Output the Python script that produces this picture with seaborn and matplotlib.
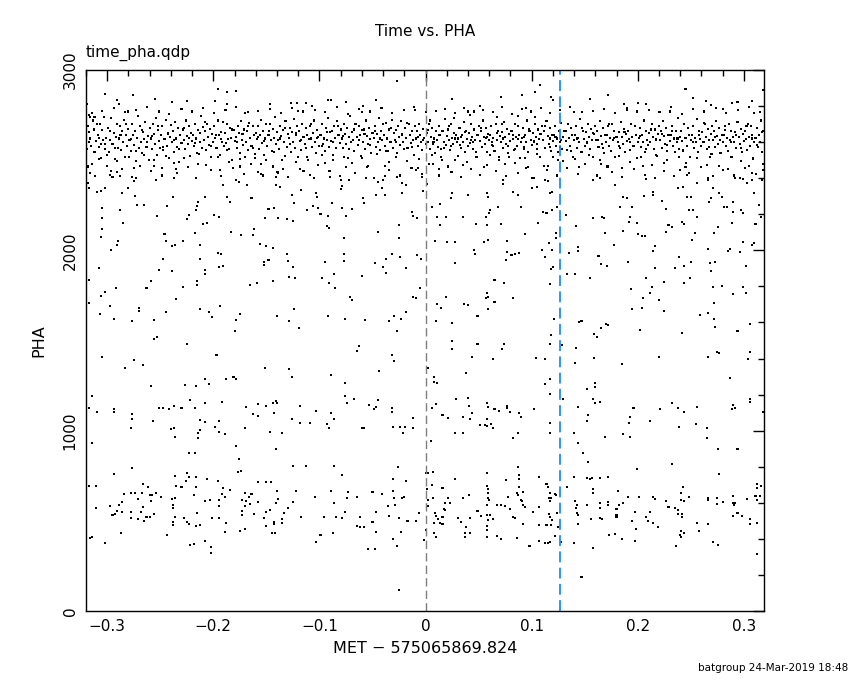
import matplotlib
matplotlib.use("Agg")
import matplotlib.pyplot as plt
import seaborn as sns
import pandas as pd
from matplotlib.ticker import MultipleLocator, FuncFormatter

# ---- data: (time offset in ms, PHA) ----
top_pts = [(-302,2867),(-276,2861),(-255,2839),(-291,2833),(-289,2811),(-239,2822),(-225,2828),(-196,2895),
 (-187,2878),(-179,2883),(-198,2828),(-187,2811),(-147,2811),(-127,2817),(-121,2817),(-113,2817),(-107,2800),
 (-92,2833),(-89,2833),(-75,2822),(-59,2800),(-47,2833),(-27,2939),(-319,2811),(-317,2750),(-316,2739),(-312,2739),
 (25,2839),(51,2800),(71,2850),(91,2861),(103,2878),(108,2917),(118,2850),(120,2833),(155,2839),(172,2861),
 (187,2811),(200,2817),(208,2811),(245,2895),(252,2844),(264,2828),(269,2806),(289,2817),(294,2822),(308,2828),
 (318,2889),(-280,2770),(-230,2785),(-170,2760),(-120,2775),(-60,2765),(-10,2780),(40,2770),(95,2790),(140,2765),
 (190,2780),(230,2770),(280,2785),(310,2760)]

band_pts = [
 (-318,2690),(-316,2620),(-315,2580),(-313,2720),(-312,2545),(-317,2655),(-311,2605),(-314,2480),(-319,2560),(-310,2700),(-316,2430),
 (-309,2640),(-308,2575),(-307,2700),(-306,2510),(-305,2665),(-304,2610),(-303,2740),(-302,2560),(-301,2625),(-300,2470),(-306,2590),
 (-299,2680),(-298,2545),(-297,2610),(-296,2735),(-295,2590),(-294,2650),(-293,2505),(-292,2630),(-291,2700),(-290,2570),(-296,2440),
 (-289,2620),(-288,2690),(-287,2555),(-286,2660),(-285,2600),(-284,2725),(-283,2520),(-282,2640),(-281,2580),(-280,2675),
 (-279,2610),(-278,2550),(-277,2700),(-276,2640),(-275,2585),(-274,2660),(-273,2495),(-272,2625),(-271,2745),(-270,2570),(-275,2455),
 (-269,2690),(-268,2600),(-267,2540),(-266,2655),(-265,2615),(-264,2710),(-263,2575),(-262,2635),(-261,2500),(-260,2680),
 (-259,2620),(-258,2560),(-257,2700),(-256,2645),(-255,2590),(-254,2735),(-253,2530),(-252,2665),(-251,2605),(-250,2570),(-256,2470),
 (-249,2640),(-248,2690),(-247,2555),(-246,2615),(-245,2725),(-244,2580),(-243,2650),(-242,2510),(-241,2630),(-240,2695),
 (-239,2600),(-238,2660),(-237,2545),(-236,2710),(-235,2620),(-234,2575),(-233,2680),(-232,2490),(-231,2640),(-230,2595),(-235,2450),
 (-229,2670),(-228,2610),(-227,2560),(-226,2720),(-225,2635),(-224,2590),(-223,2690),(-222,2525),(-221,2650),(-220,2605),
 (-219,2640),(-218,2580),(-217,2700),(-216,2620),(-215,2540),(-214,2665),(-213,2600),(-212,2745),(-211,2570),(-210,2685),(-214,2480),
 (-209,2610),(-208,2660),(-207,2555),(-206,2700),(-205,2630),(-204,2585),(-203,2675),(-202,2515),(-201,2645),(-200,2600),
 (-199,2690),(-198,2625),(-197,2570),(-196,2720),(-195,2640),(-194,2530),(-193,2655),(-192,2600),(-191,2710),(-190,2580),(-194,2445),
 (-189,2650),(-188,2595),(-187,2700),(-186,2615),(-185,2560),(-184,2680),(-183,2625),(-182,2500),(-181,2665),(-180,2605),
 (-179,2630),(-178,2570),(-177,2690),(-176,2650),(-175,2540),(-174,2715),(-173,2610),(-172,2585),(-171,2670),(-170,2520),(-175,2465),
 (-169,2600),(-168,2660),(-167,2555),(-166,2705),(-165,2625),(-164,2580),(-163,2690),(-162,2640),(-161,2510),(-160,2650),
 (-159,2615),(-158,2690),(-157,2560),(-156,2640),(-155,2725),(-154,2595),(-153,2660),(-152,2530),(-151,2620),(-150,2700),(-155,2480),
 (-149,2580),(-148,2640),(-147,2700),(-146,2610),(-145,2550),(-144,2675),(-143,2625),(-142,2740),(-141,2590),(-140,2655),
 (-139,2610),(-138,2560),(-137,2690),(-136,2635),(-135,2500),(-134,2665),(-133,2600),(-132,2715),(-131,2575),(-130,2645),(-134,2450),
 (-129,2625),(-128,2680),(-127,2545),(-126,2655),(-125,2600),(-124,2730),(-123,2570),(-122,2640),(-121,2690),(-120,2520),
 (-119,2660),(-118,2605),(-117,2555),(-116,2700),(-115,2630),(-114,2590),(-113,2680),(-112,2640),(-111,2500),(-110,2615),(-115,2440),
 (-109,2690),(-108,2620),(-107,2575),(-106,2650),(-105,2720),(-104,2600),(-103,2540),(-102,2665),(-101,2630),(-100,2580),
 (-99,2640),(-98,2700),(-97,2590),(-96,2620),(-95,2550),(-94,2680),(-93,2610),(-92,2735),(-91,2575),(-90,2655),(-95,2485),
 (-89,2605),(-88,2660),(-87,2530),(-86,2690),(-85,2625),(-84,2570),(-83,2715),(-82,2640),(-81,2595),(-80,2670),
 (-79,2620),(-78,2565),(-77,2700),(-76,2645),(-75,2590),(-74,2680),(-73,2510),(-72,2630),(-71,2745),(-70,2600),(-75,2460),
 (-69,2655),(-68,2610),(-67,2550),(-66,2700),(-65,2630),(-64,2585),(-63,2690),(-62,2640),(-61,2525),(-60,2665),
 (-59,2600),(-58,2670),(-57,2560),(-56,2720),(-55,2635),(-54,2590),(-53,2680),(-52,2615),(-51,2540),(-50,2650),(-54,2470),
 (-49,2625),(-48,2690),(-47,2575),(-46,2645),(-45,2600),(-44,2735),(-43,2555),(-42,2660),(-41,2610),(-40,2700),
 (-39,2640),(-38,2580),(-37,2705),(-36,2620),(-35,2550),(-34,2670),(-33,2600),(-32,2725),(-31,2565),(-30,2650),(-34,2490),
 (-29,2610),(-28,2665),(-27,2540),(-26,2690),(-25,2630),(-24,2585),(-23,2715),(-22,2645),(-21,2600),(-20,2560),
 (-19,2680),(-18,2625),(-17,2570),(-16,2700),(-15,2640),(-14,2595),(-13,2660),(-12,2610),(-11,2530),(-10,2690),(-14,2455),
 (-9,2620),(-8,2660),(-7,2580),(-6,2700),(-5,2640),(-4,2600),(-3,2555),(-2,2675),(-1,2625),(0,2590),
 (1,2650),(2,2600),(3,2700),(4,2560),(5,2630),(6,2680),(7,2590),(8,2620),(9,2540),(10,2660),(4,2720),(7,2480),
 (11,2610),(12,2575),(13,2690),(14,2640),(15,2520),(16,2660),(17,2600),(18,2730),(19,2585),(20,2635),(15,2560),(13,2450),
 (21,2670),(22,2610),(23,2555),(24,2700),(25,2625),(26,2590),(27,2650),(28,2500),(29,2640),(30,2600),(24,2580),(27,2735),
 (31,2620),(32,2680),(33,2570),(34,2640),(35,2600),(36,2710),(37,2545),(38,2660),(39,2615),(40,2580),(35,2475),(33,2630),
 (41,2650),(42,2595),(43,2700),(44,2630),(45,2560),(46,2670),(47,2610),(48,2520),(49,2640),(50,2690),(45,2600),(42,2750),
 (51,2605),(52,2660),(53,2575),(54,2720),(55,2630),(56,2590),(57,2680),(58,2545),(59,2645),(60,2610),(55,2460),(57,2625),
 (61,2640),(62,2690),(63,2585),(64,2625),(65,2550),(66,2700),(67,2610),(68,2660),(69,2520),(70,2635),(64,2580),(67,2740),
 (71,2600),(72,2655),(73,2570),(74,2710),(75,2630),(76,2590),(77,2675),(78,2540),(79,2645),(80,2605),(75,2480),(73,2620),
 (81,2660),(82,2615),(83,2555),(84,2700),(85,2630),(86,2580),(87,2690),(88,2640),(89,2510),(90,2600),(84,2560),(87,2745),
 (91,2625),(92,2680),(93,2575),(94,2640),(95,2600),(96,2720),(97,2545),(98,2660),(99,2610),(100,2585),(95,2455),(93,2630),
 (101,2650),(102,2600),(103,2700),(104,2630),(105,2560),(106,2670),(107,2615),(108,2520),(109,2645),(110,2690),(105,2590),(103,2740),
 (111,2610),(112,2660),(113,2570),(114,2715),(115,2635),(116,2590),(117,2680),(118,2550),(119,2640),(120,2605),(115,2470),(117,2620),
 (121,2640),(122,2690),(123,2580),(124,2620),(125,2545),(126,2660),(127,2600),(128,2705),(129,2560),(130,2630),(125,2500),(127,2575),
 (131,2660),(132,2605),(133,2555),(134,2700),(135,2625),(136,2580),(137,2680),(138,2640),(139,2520),(140,2610),
 (141,2640),(142,2690),(143,2570),(144,2625),(145,2600),(146,2730),(147,2545),(148,2660),(149,2615),(150,2580),(145,2460),
 (151,2655),(152,2600),(153,2700),(154,2630),(155,2560),(156,2675),(157,2610),(158,2520),(159,2645),(160,2690),
 (161,2610),(162,2660),(163,2575),(164,2715),(165,2635),(166,2590),(167,2680),(168,2540),(169,2640),(170,2600),(165,2480),
 (171,2640),(172,2690),(173,2580),(174,2625),(175,2550),(176,2700),(177,2610),(178,2660),(179,2515),(180,2630),
 (181,2600),(182,2655),(183,2570),(184,2710),(185,2630),(186,2590),(187,2675),(188,2545),(189,2645),(190,2605),(185,2455),
 (191,2660),(192,2615),(193,2555),(194,2700),(195,2630),(196,2580),(197,2690),(198,2640),(199,2510),(200,2600),
 (201,2625),(202,2680),(203,2575),(204,2640),(205,2600),(206,2720),(207,2545),(208,2660),(209,2610),(210,2585),(205,2470),
 (211,2650),(212,2600),(213,2700),(214,2630),(215,2560),(216,2670),(217,2615),(218,2525),(219,2645),(220,2690),
 (221,2610),(222,2660),(223,2570),(224,2715),(225,2635),(226,2590),(227,2680),(228,2550),(229,2640),(230,2605),(225,2485),
 (231,2640),(232,2690),(233,2580),(234,2620),(235,2545),(236,2660),(237,2600),(238,2735),(239,2560),(240,2630),
 (241,2660),(242,2605),(243,2555),(244,2700),(245,2625),(246,2580),(247,2680),(248,2640),(249,2520),(250,2610),(245,2460),
 (251,2640),(252,2690),(253,2570),(254,2625),(255,2600),(256,2730),(257,2545),(258,2660),(259,2615),(260,2580),
 (261,2655),(262,2600),(263,2700),(264,2630),(265,2560),(266,2675),(267,2610),(268,2520),(269,2645),(270,2690),(265,2475),
 (271,2610),(272,2660),(273,2575),(274,2715),(275,2635),(276,2590),(277,2680),(278,2540),(279,2640),(280,2600),
 (281,2640),(282,2690),(283,2580),(284,2625),(285,2550),(286,2700),(287,2610),(288,2660),(289,2515),(290,2630),(285,2450),
 (291,2600),(292,2655),(293,2570),(294,2710),(295,2630),(296,2590),(297,2675),(298,2545),(299,2645),(300,2605),
 (301,2660),(302,2615),(303,2555),(304,2700),(305,2630),(306,2580),(307,2690),(308,2640),(309,2510),(310,2600),(305,2470),
 (311,2625),(312,2680),(313,2575),(314,2640),(315,2600),(316,2720),(317,2545),(318,2660)]

band_core_extra = [
 (-317.5,2600),(-312.5,2670),(-307.5,2625),(-302.5,2590),(-297.5,2660),(-292.5,2565),(-287.5,2640),(-282.5,2700),
 (-277.5,2615),(-272.5,2550),(-267.5,2665),(-262.5,2600),(-257.5,2635),(-252.5,2690),(-247.5,2575),(-242.5,2645),
 (-237.5,2610),(-232.5,2560),(-227.5,2680),(-222.5,2625),(-217.5,2595),(-212.5,2650),(-207.5,2710),(-202.5,2580),
 (-197.5,2640),(-192.5,2615),(-187.5,2555),(-182.5,2670),(-177.5,2600),(-172.5,2645),(-167.5,2690),(-162.5,2570),
 (-157.5,2630),(-152.5,2605),(-147.5,2660),(-142.5,2545),(-137.5,2620),(-132.5,2680),(-127.5,2590),(-122.5,2650),
 (-117.5,2610),(-112.5,2565),(-107.5,2700),(-102.5,2625),(-97.5,2580),(-92.5,2655),(-87.5,2600),(-82.5,2690),
 (-77.5,2635),(-72.5,2560),(-67.5,2670),(-62.5,2610),(-57.5,2645),(-52.5,2585),(-47.5,2660),(-42.5,2620),
 (-37.5,2550),(-32.5,2680),(-27.5,2600),(-22.5,2640),(-17.5,2705),(-12.5,2575),(-7.5,2630),(-2.5,2610),
 (2.5,2665),(7.5,2600),(12.5,2640),(17.5,2570),(22.5,2690),(27.5,2620),(32.5,2585),(37.5,2655),(42.5,2610),
 (47.5,2545),(52.5,2680),(57.5,2630),(62.5,2600),(67.5,2650),(72.5,2700),(77.5,2580),(82.5,2640),(87.5,2615),
 (92.5,2560),(97.5,2670),(102.5,2605),(107.5,2645),(112.5,2690),(117.5,2575),(122.5,2630),(127.5,2610),
 (132.5,2660),(137.5,2550),(142.5,2620),(147.5,2680),(152.5,2595),(157.5,2650),(162.5,2610),(167.5,2565),
 (172.5,2700),(177.5,2625),(182.5,2580),(187.5,2655),(192.5,2600),(197.5,2690),(202.5,2635),(207.5,2560),
 (212.5,2670),(217.5,2610),(222.5,2645),(227.5,2585),(232.5,2660),(237.5,2620),(242.5,2550),(247.5,2680),
 (252.5,2600),(257.5,2640),(262.5,2705),(267.5,2575),(272.5,2630),(277.5,2610),(282.5,2665),(287.5,2600),
 (292.5,2640),(297.5,2570),(302.5,2690),(307.5,2620),(312.5,2585),(317.5,2655)]

band_edge_pts = [
 (-318.5,2465),(-314.5,2760),(-311.5,2410),(-307.5,2505),(-304.5,2775),(-300.5,2530),(-297.5,2420),(-293.5,2790),
 (-290.5,2495),(-286.5,2450),(-283.5,2765),(-279.5,2515),(-276.5,2405),(-272.5,2780),(-269.5,2470),(-265.5,2530),
 (-262.5,2795),(-258.5,2440),(-255.5,2500),(-251.5,2770),(-248.5,2415),(-244.5,2525),(-241.5,2755),(-237.5,2485),
 (-234.5,2430),(-230.5,2785),(-227.5,2510),(-223.5,2460),(-220.5,2770),(-216.5,2400),(-213.5,2535),(-209.5,2790),
 (-206.5,2475),(-202.5,2445),(-199.5,2760),(-195.5,2520),(-192.5,2410),(-188.5,2780),(-185.5,2490),(-181.5,2455),
 (-178.5,2795),(-174.5,2505),(-171.5,2425),(-167.5,2765),(-164.5,2480),(-160.5,2535),(-157.5,2775),(-153.5,2415),
 (-150.5,2500),(-146.5,2785),(-143.5,2465),(-139.5,2435),(-136.5,2760),(-132.5,2525),(-129.5,2405),(-125.5,2790),
 (-122.5,2490),(-118.5,2450),(-115.5,2770),(-111.5,2515),(-108.5,2420),(-104.5,2780),(-101.5,2475),(-97.5,2530),
 (-94.5,2765),(-90.5,2440),(-87.5,2500),(-83.5,2795),(-80.5,2410),(-76.5,2520),(-73.5,2755),(-69.5,2485),
 (-66.5,2430),(-62.5,2785),(-59.5,2510),(-55.5,2460),(-52.5,2770),(-48.5,2400),(-45.5,2535),(-41.5,2790),
 (-38.5,2470),(-34.5,2445),(-31.5,2760),(-27.5,2520),(-24.5,2415),(-20.5,2780),(-17.5,2495),(-13.5,2455),
 (-10.5,2795),(-6.5,2505),(-3.5,2425),(0.5,2765),
 (3.5,2480),(6.5,2530),(9.5,2775),(12.5,2415),(15.5,2500),(18.5,2785),(21.5,2465),(24.5,2435),(27.5,2760),
 (30.5,2525),(33.5,2405),(36.5,2790),(39.5,2490),(42.5,2450),(45.5,2770),(48.5,2515),(51.5,2420),(54.5,2780),
 (57.5,2475),(60.5,2530),(63.5,2765),(66.5,2440),(69.5,2500),(72.5,2795),(75.5,2410),(78.5,2520),(81.5,2755),
 (84.5,2485),(87.5,2430),(90.5,2785),(93.5,2510),(96.5,2460),(99.5,2770),(102.5,2400),(105.5,2535),(108.5,2790),
 (111.5,2470),(114.5,2445),(117.5,2760),(120.5,2520),(123.5,2415),(126.5,2780),(129.5,2495),(133.5,2455),
 (136.5,2795),(140.5,2505),(143.5,2425),(147.5,2765),(150.5,2480),(154.5,2530),(157.5,2775),(161.5,2415),
 (164.5,2500),(168.5,2785),(171.5,2465),(175.5,2435),(178.5,2760),(182.5,2525),(185.5,2405),(189.5,2790),
 (192.5,2490),(196.5,2450),(199.5,2770),(203.5,2515),(206.5,2420),(210.5,2780),(213.5,2475),(217.5,2530),
 (220.5,2765),(224.5,2440),(227.5,2500),(231.5,2795),(234.5,2410),(238.5,2520),(241.5,2755),(245.5,2485),
 (248.5,2430),(252.5,2785),(255.5,2510),(259.5,2460),(262.5,2770),(266.5,2400),(269.5,2535),(273.5,2790),
 (276.5,2470),(280.5,2445),(283.5,2760),(287.5,2520),(290.5,2415),(294.5,2780),(297.5,2495),(301.5,2455),
 (304.5,2795),(308.5,2505),(311.5,2425),(315.5,2765),(318.5,2480)]

mid_pts = [
 (-296,2000),(-247,1952),(-308,1902),(-251,1891),(-239,1885),(-213,1952),(-193,1980),(-208,1891),(-208,1869),(-195,1908),
 (-191,1913),(-317,1835),(-259,1830),(-292,1791),(-263,1791),(-302,1769),(-306,1747),(-215,1830),(-215,1808),(-229,1797),
 (-235,1730),(-317,1708),(-297,1691),(-270,1680),(-270,1664),(-307,1647),(-294,1619),(-277,1608),(-256,1614),(-245,1658),
 (-213,1675),(-204,1658),(-201,1630),(-194,1691),(-179,1614),(-175,1647),(-180,1553),(-165,1808),(-159,1819),(-152,1935),
 (-152,1919),(-148,1946),(-144,1830),(-131,1980),(-130,1941),(-125,1908),(-129,1852),(-123,1847),(-124,1675),(-140,1636),
 (-129,1608),(-119,1569),(-95,1935),(-98,1847),(-91,1819),(-86,1869),(-85,1791),(-77,1980),(-77,1941),(-71,1741),(-69,1725),
 (-60,1858),(-92,1636),(-76,1619),(-57,1614),(-48,1930),(-37,1952),(-32,1980),(-24,1963),(-40,1908),(-37,1874),(-18,1902),
 (-8,1974),(-4,1952),(-5,1791),(-12,1741),(-9,1736),(-18,1658),(-30,1636),(-34,1608),(-23,1619),(-27,1553),(-253,1519),
 (-256,1508),(-225,1480),(-63,1469),(-65,1442),(-32,1419),(-30,1386),(-305,1408),(-275,1392),(-283,1347),(-266,1364),
 (-197,1419),(-151,1347),(-129,1342),(-126,1297),(-89,1308),(-44,1331),(-320,1275),(-259,1248),(-227,1253),(-216,1248),
 (-208,1286),(-204,1259),(-188,1286),(-181,1297),(-179,1286),(-76,1264),(2,1347),
 (47,1980),(28,1930),(77,1991),(81,1974),(84,1980),(88,1985),(76,1946),(110,2002),(113,1963),(120,1908),(118,1896),
 (117,1813),(65,1835),(74,1819),(19,1741),(11,1702),(15,1680),(36,1702),(40,1697),(58,1763),(59,1741),(57,1736),(65,1713),
 (59,1675),(82,1736),(49,1636),(10,1608),(25,1597),(25,1497),(25,1453),(49,1480),(74,1480),(72,1453),(44,1408),(64,1397),
 (104,1403),(113,1397),(118,1530),(117,1480),(121,1619),(38,1320),(8,1297),(8,1270),(11,1264),(117,1286),(113,1259),
 (135,1985),(144,1996),(163,1969),(165,1924),(171,1913),(191,1935),(133,1869),(141,1869),(155,1847),(214,1996),(216,1902),
 (239,1963),(244,1913),(250,1935),(235,1902),(268,1930),(273,1935),(269,1885),(285,1996),(302,1913),(208,1847),(225,1824),
 (249,1847),(244,1819),(194,1786),(213,1797),(212,1763),(205,1736),(220,1725),(195,1675),(204,1680),(225,1664),(271,1797),
 (279,1802),(299,1797),(290,1758),(302,1763),(272,1708),(259,1641),(266,1652),(272,1619),(273,1575),(294,1553),(306,1591),
 (145,1602),(147,1608),(170,1591),(172,1586),(165,1569),(159,1536),(162,1519),(202,1558),(242,1542),(129,1475),(142,1458),
 (159,1403),(185,1369),(220,1408),(266,1408),(275,1436),(277,1431),(306,1436),(304,1397),(141,1375),(287,1292),(160,1264),
 (160,1242),(152,1231),
 (-317,2346),(-318,2373),(-310,2323),(-306,2329),(-302,2346),(-280,2346),(-286,2318),(-274,2301),(-305,2236),(-288,2224),
 (-305,2179),(-285,2151),(-305,2118),(-306,2074),(-290,2052),(-291,2030),(-272,2251),(-265,2251),(-253,2190),(-244,2246),
 (-238,2296),(-246,2090),(-245,2052),(-236,2030),(-239,2024),(-229,2052),(-223,2196),(-225,2174),(-215,2246),(-216,2224),
 (-208,2296),(-217,2096),(-213,2030),(-210,2146),(-206,2151),(-214,2268),(-199,2196),(-195,2185),(-187,2296),(-184,2268),
 (-191,2362),(-196,1985),(-183,2102),(-174,2085),(-162,2118),(-163,2085),(-164,2290),(-156,2035),(-150,2024),(-144,2013),
 (-148,2229),(-143,2235),(-151,2179),(-139,2179),(-131,2174),(-125,2163),(-126,2307),(-124,2262),(-112,2224),(-106,2246),
 (-101,2235),(-102,2296),(-103,2318),(-93,2135),(-91,2124),(-99,2201),(-92,2190),(-88,2262),(-79,2235),(-75,2190),(-80,2340),
 (-77,2068),(-69,2229),(-59,2290),(-58,2262),(-72,2390),(-45,2102),(-40,2390),(-41,2346),(-47,2307),(-38,2307),(-22,2318),
 (-13,2212),(-12,2190),(-25,2068),(-9,2445),(-7,2457),(-3,2407),(1,2368),(-8,2179),(-25,2140),(-22,2373),(-18,2362),
 (-254,2390),(-237,2401),(-273,2401),(-275,2384),(-248,2457),(-295,2407),(-291,2434),(-288,2412),(-179,2390),(-176,2379),
 (-168,2362),(-158,2434),(-155,2423),(-141,2362),(-137,2351),(-141,2407),(-139,2429),(-117,2334),(-105,2401),(-90,2407),
 (-80,2390),(-79,2357),(-56,2401),(-45,2379),(-38,2412),(-27,2407),(-13,2457),
 (-2,2329),(6,2240),(14,2257),(11,2185),(19,2185),(14,2140),(9,2052),(20,2046),(28,2046),(24,2290),(25,2318),(35,2185),
 (40,2307),(46,2002),(48,2146),(57,2185),(58,2140),(55,2046),(59,2057),(59,2296),(58,2318),(61,2224),(60,2207),(68,2240),
 (71,2146),(77,2052),(73,2390),(73,2368),(82,2323),(87,2307),(90,2240),(100,2346),(105,2351),(100,2401),(94,2090),(106,2151),
 (111,2212),(114,2207),(119,2224),(124,2240),(116,2041),(123,2096),(123,2068),(117,2318),(119,2323),(119,2002),(113,2390),
 (115,2384),(132,2196),(142,2135),(144,2019),(158,2179),(166,2185),(168,2179),(169,2096),(178,2030),(158,2390),(164,2401),
 (179,2362),(186,2296),(190,2290),(183,2240),(193,2185),(192,2157),(199,2151),(200,2090),(204,2079),(207,2079),(186,2107),
 (195,2240),(206,2301),(214,2323),(214,2307),(208,2396),(216,2401),(223,2273),(227,2229),(229,2140),(232,2129),(227,2102),
 (216,2024),(238,2346),(243,2351),(246,2296),(250,2296),(242,2157),(244,2146),(248,2224),(252,2224),(240,2445),(246,2418),
 (256,2373),(266,2390),(271,2412),(269,2290),(271,2346),(267,2268),(277,2318),(279,2296),(281,2240),(284,2240),(290,2212),
 (297,2224),(299,2207),(272,2096),(276,2129),(266,2007),(287,2007),(289,2151),(292,2401),(296,2401),(299,2396),(303,2373),
 (308,2390),(310,2318),(314,2251),(310,2041),(308,2030),(296,1991),(299,2046),(311,2146),(290,2268),(316,2185),(317,2390),
 (318,2445),(308,2429),(256,2185),(251,2057),(254,2096)]

low_pts = [
 (-314,1192),(-317,1126),(-310,1103),(-314,932),(-317,693),(-311,693),(-311,571),(-316,405),(-314,410),(-302,377),(-294,1120),
 (-294,1103),(-294,760),(-277,1092),(-277,1065),(-278,1015),(-277,793),(-257,1054),(-251,1126),(-247,1126),(-242,1120),
 (-237,1137),(-230,1126),(-240,1009),(-237,1015),(-236,965),(-222,1170),(-217,1126),(-208,1153),(-213,1059),(-213,1004),
 (-214,987),(-214,959),(-208,1048),(-223,876),(-217,876),(-198,1020),(-195,993),(-195,1054),(-192,1159),(-189,981),(-179,915),
 (-176,843),(-177,771),(-174,776),(-169,1131),(-163,1092),(-158,1081),(-158,1148),(-150,1137),(-143,1098),(-144,1153),
 (-141,1164),(-140,1153),(-170,1015),(-147,993),(-141,898),(-135,987),(-126,1065),(-118,1137),(-118,1043),(-109,1043),
 (-125,804),(-113,804),(-103,1109),(-93,1037),(-91,1015),(-89,1098),(-86,1065),(-86,804),(-79,754),(-76,1192),(-74,1153),
 (-67,1176),(-60,1015),(-58,1015),(-53,1142),(-49,1120),(-47,1131),(-45,1170),(-32,1103),(-32,1126),(-31,1020),(-24,1020),
 (-21,987),(-19,1020),(-12,1015),(-12,1070),(-26,798),
 (-297,582),(-295,532),(-293,538),(-289,588),(-286,549),(-291,554),(-286,604),(-284,649),(-287,432),(-278,654),(-278,549),
 (-278,516),(-274,654),(-271,621),(-267,654),(-271,510),(-268,549),(-265,499),(-266,704),(-266,577),(-262,688),(-260,643),
 (-258,643),(-263,521),(-260,521),(-256,538),(-254,654),(-249,632),(-259,610),(-244,421),(-239,621),(-236,627),(-238,588),
 (-238,571),(-236,521),(-238,493),(-238,477),(-236,749),(-235,693),(-230,688),(-226,721),(-228,516),(-225,765),(-223,743),
 (-225,493),(-223,482),(-222,366),(-218,371),(-218,643),(-216,743),(-216,688),(-215,543),(-216,471),(-213,477),(-208,610),
 (-203,615),(-208,388),(-206,732),(-202,355),(-202,322),(-201,516),(-195,516),(-196,721),(-195,615),(-195,582),(-192,649),
 (-191,682),(-189,632),(-188,488),(-189,438),(-184,671),(-175,444),(-170,455),(-173,615),(-170,582),(-169,610),(-173,554),
 (-173,532),(-170,654),(-166,632),(-164,649),(-165,593),(-162,538),(-158,715),(-158,604),(-150,715),(-146,715),(-147,560),
 (-150,549),(-152,516),(-150,471),(-143,493),(-143,482),(-145,432),(-142,430),(-140,665),(-139,621),(-141,599),(-135,510),
 (-135,488),(-133,543),(-130,571),(-125,604),(-122,665),(-117,521),(-104,632),(-103,383),(-99,421),(-96,521),(-89,665),
 (-86,599),(-87,432),(-84,521),(-79,516),(-76,549),(-74,627),(-73,660),(-65,632),(-62,521),(-62,466),(-58,466),(-65,471),
 (-54,344),(-48,344),(-50,660),(-47,549),(-47,438),(-50,493),(-41,649),(-35,582),(-34,527),(-31,732),(-31,665),(-30,627),
 (-29,588),(-27,360),(-31,399),(-25,516),(-23,438),(-22,627),(-20,632),(-25,116),(-18,721),(-17,499),(-9,499),(-6,543),
 (0,765),(2,615),(0,449),(-1,394),
 (6,1126),(10,1148),(5,943),(16,1087),(21,1070),(29,1176),(28,987),(35,987),(35,1076),(40,1181),(41,1137),(42,1065),(44,1098),
 (51,1031),(56,1031),(58,1153),(59,1131),(58,1065),(58,1026),(62,1037),(64,1015),(65,1120),(69,1109),(77,1137),(77,1126),
 (80,1103),(82,959),(87,987),(88,1098),(90,1076),(102,1120),(117,1203),(117,1043),(117,987),(130,1176),(140,987),(144,1131),
 (144,932),(153,1087),(152,1054),(148,876),(153,826),(158,1176),(164,1159),(160,1153),(169,965),(186,981),(193,965),
 (192,1043),(193,1076),(196,1126),(199,787),(212,1054),(221,1120),(232,1153),(232,815),(238,1126),(239,1020),(244,1103),
 (255,1037),(256,1131),(265,1015),(265,959),(276,898),(294,898),(277,760),(290,1142),(292,1126),(289,1120),(306,1176),
 (306,1159),(318,1103),
 (2,765),(7,771),(6,699),(16,682),(1,677),(7,627),(2,582),(18,599),(17,566),(18,560),(21,627),(23,599),(9,543),(10,527),
 (12,510),(14,488),(16,521),(16,482),(8,488),(8,432),(10,410),(28,732),(31,516),(33,493),(35,627),(38,466),(37,432),(37,410),
 (41,643),(42,516),(42,432),(49,554),(52,527),(58,765),(58,693),(59,677),(59,654),(59,627),(60,615),(58,588),(58,532),
 (59,505),(58,471),(58,449),(58,410),(61,532),(64,510),(67,588),(71,588),(67,416),(71,399),(75,582),(76,726),(78,632),
 (80,566),(82,521),(84,516),(86,654),(87,643),(87,798),(88,754),(88,732),(88,688),(90,615),(91,610),(92,660),(92,588),
 (94,577),(86,405),(92,482),(98,360),(101,549),(107,743),(107,577),(107,477),(107,388),(114,704),(115,688),(114,477),
 (113,377),(116,627),(118,627),(117,610),(117,654),(116,538),(117,521),(119,505),(118,477),(123,643),(122,649),(124,543),
 (122,416),(115,377),(117,383),(125,466),(128,383),(133,688),(140,743),(141,610),(142,571),(143,588),(143,543),(144,532),
 (144,482),(140,377),(147,189),(152,738),(155,732),(157,738),(158,677),(158,654),(152,588),(156,510),(158,349),(164,738),
 (164,599),(164,571),(164,516),(166,510),(172,743),(172,604),(172,588),(173,421),(179,427),(180,566),(180,532),(180,521),
 (181,665),(182,588),(186,599),(185,399),(191,632),(195,499),(197,549),(197,388),(198,455),(201,632),(208,521),(210,499),
 (212,549),(214,632),(216,621),(214,488),(219,466),(227,610),(229,577),(235,571),(236,360),(238,560),(238,538),(242,521),
 (242,538),(241,654),(241,615),(243,688),(244,610),(248,632),(241,444),(240,421),(241,410),(244,432),(256,488),(258,444),
 (266,627),(266,615),(266,482),(271,383),(275,627),(275,593),(276,366),(280,604),(290,638),(290,599),(292,599),(291,588),
 (290,527),(294,543),(298,527),(303,621),(306,510),(306,482),(312,704),(312,682),(316,693),(311,638),(315,638),(312,615),
 (312,488),(312,316)]

x_ticks = [-0.3, -0.2, -0.1, 0, 0.1, 0.2, 0.3]
y_ticks = [0, 1000, 2000, 3000]
trigger_offset = 0.0
blue_line = 0.1265

rows = []
for pts in [top_pts, band_pts, band_core_extra, band_edge_pts, mid_pts, low_pts]:
    for ms, pha in pts:
        rows.append({"t": ms / 1000.0, "PHA": pha})
df = pd.DataFrame(rows)

sns.set_style("white")
plt.rcParams['font.family'] = ['DejaVu Sans']
for k in ["text.color", "axes.labelcolor", "xtick.color", "ytick.color", "axes.edgecolor"]:
    plt.rcParams[k] = "black"

fig = plt.figure(figsize=(8.5, 6.8), dpi=100)
ax = fig.add_axes([86/850, 69/680, (764-86)/850, (611-70)/680])

sns.scatterplot(data=df, x="t", y="PHA", ax=ax, color="black", s=2.2, marker="s",
                linewidth=0, edgecolor="none", legend=False)

ax.axvline(trigger_offset, color="#7f7f7f", lw=1.0, ls=(0, (6, 3)))
ax.axvline(blue_line, color="#1a8cff", lw=1.3, ls=(0, (6, 3)))

ax.set_xlim(-0.32, 0.319)
ax.set_ylim(0, 3000)
ax.xaxis.set_minor_locator(MultipleLocator(0.02))
ax.yaxis.set_minor_locator(MultipleLocator(200))
ax.set_xticks(x_ticks)
ax.set_yticks(y_ticks)

def fmt(v, pos):
    s = "%g" % round(v, 3)
    return s.replace("-", "\u2212")
ax.xaxis.set_major_formatter(FuncFormatter(fmt))
ax.yaxis.set_major_formatter(FuncFormatter(fmt))

ax.tick_params(which="both", direction="in", top=True, right=True, width=1, colors="black")
ax.tick_params(which="major", length=8, labelsize=11, pad=6)
ax.tick_params(which="minor", length=4)
for lab in ax.get_yticklabels():
    lab.set_rotation(90)
    lab.set_va("center")

for sp in ax.spines.values():
    sp.set_linewidth(1.0)
    sp.set_color("black")

ax.set_xlabel("MET \u2212 575065869.824", fontsize=11.5, labelpad=5, color="black")
ax.set_ylabel("PHA", fontsize=11.5, labelpad=12, color="black")

fig.text(0.5, 1 - 32/680, "Time vs. PHA", ha="center", va="center", fontsize=11, color="black")
fig.text(86/850, 1 - 53/680, "time_pha.qdp", ha="left", va="center", fontsize=11, color="black")
fig.text(848/850, 1 - 668/680, "batgroup 24-Mar-2019 18:48", ha="right", va="center", fontsize=7.5, color="black")

fig.savefig("out.png", dpi=100)
